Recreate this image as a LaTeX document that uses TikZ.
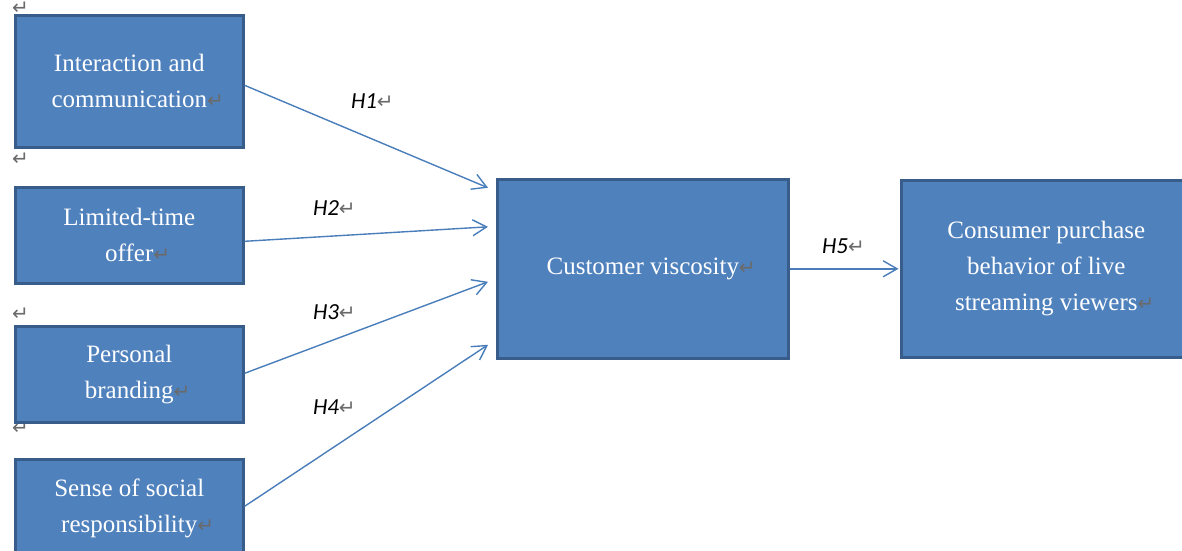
\documentclass[tikz,border=0pt]{standalone}
\usepackage{fontspec}
\setmainfont{Liberation Serif}
\newfontfamily\labelfont{Carlito}
\newfontfamily\symfont{DejaVu Sans}
\usetikzlibrary{arrows.meta}
\definecolor{boxfill}{HTML}{4F81BD}
\definecolor{boxline}{HTML}{385D8A}
\definecolor{linkcol}{HTML}{4A7EBB}
\definecolor{markgray}{HTML}{6A6A6A}
% paragraph mark, set without taking up width
\newcommand\pmark{\rlap{\symfont\color{markgray}\fontsize{20}{20}\selectfont\char"21B5}}
\begin{document}
\begin{tikzpicture}[x=1pt,y=-1pt,
  factor/.style={draw=boxline, line width=2.6pt, fill=boxfill, text=white,
    font=\fontsize{25}{36}\selectfont, align=center, inner sep=0pt, anchor=north west},
  link/.style={draw=linkcol, line width=1.4pt,
    -{Straight Barb[length=14pt,width=16pt,line width=1.4pt]}},
  hyp/.style={font=\labelfont\itshape\fontsize{23}{23}\selectfont, text=black, inner sep=0pt},
  margin/.style={inner sep=0pt, anchor=west}]
  \fill[white] (0,0) rectangle (1182,550);
  \useasboundingbox (0,0) rectangle (1182,550);
  \clip (0,0) rectangle (1182,550);

  % stray paragraph marks in the left margin
  \node[margin] (m1) at (12,8) {\pmark\phantom{x}};
  \node[margin] (m2) at (12,159) {\pmark\phantom{x}};
  \node[margin] (m3) at (12,314) {\pmark\phantom{x}};
  \node[margin] (m4) at (12,428) {\pmark\phantom{x}};

  % factor boxes
  \node[factor, minimum width=228pt, minimum height=132pt] (b1) at (14,14)
    {Interaction and\\communication\pmark};
  \node[factor, minimum width=228pt, minimum height=96pt] (b2) at (14,186)
    {Limited-time\\offer\pmark};
  \node[factor, minimum width=228pt, minimum height=96pt] (b3) at (14,325)
    {Personal\\branding\pmark};
  \node[factor, minimum width=228pt, minimum height=98pt] (b4) at (14,458)
    {Sense of social\\responsibility\pmark};
  \node[factor, minimum width=291pt, minimum height=179pt] (cv) at (496,178)
    {Customer viscosity\pmark};
  \node[factor, minimum width=290pt, minimum height=177pt] (cp) at (900,179)
    {Consumer purchase\\behavior of live\\streaming viewers\pmark};

  % arrow end points in front of the central box
  \coordinate (s1) at ([shift={(0,4)}]b1.east);
  \coordinate (s2) at ([shift={(0,6)}]b2.east);
  \coordinate (s3) at ([shift={(0,-1)}]b3.east);
  \coordinate (s4) at ([shift={(0,-2)}]b4.east);
  \coordinate (e1) at ([shift={(-8,-81)}]cv.west);
  \coordinate (e2) at ([shift={(-8,-42)}]cv.west);
  \coordinate (e3) at ([shift={(-8,13)}]cv.west);
  \coordinate (e4) at ([shift={(-8,76)}]cv.west);

  \draw[link] (s1) -- (e1);
  \draw[link] (s2) -- (e2);
  \draw[link] (s3) -- (e3);
  \draw[link] (s4) -- (e4);
  \draw[link, shorten >=1.5pt] (cv.east) -- (cp.west);

  % hypothesis labels
  \node[hyp] (h1) at (364,101) {H1\pmark};
  \node[hyp] (h2) at (326,208) {H2\pmark};
  \node[hyp] (h3) at (326,312) {H3\pmark};
  \node[hyp] (h4) at (326,407) {H4\pmark};
  \node[hyp] (h5) at (835,246) {H5\pmark};
\end{tikzpicture}
\end{document}
